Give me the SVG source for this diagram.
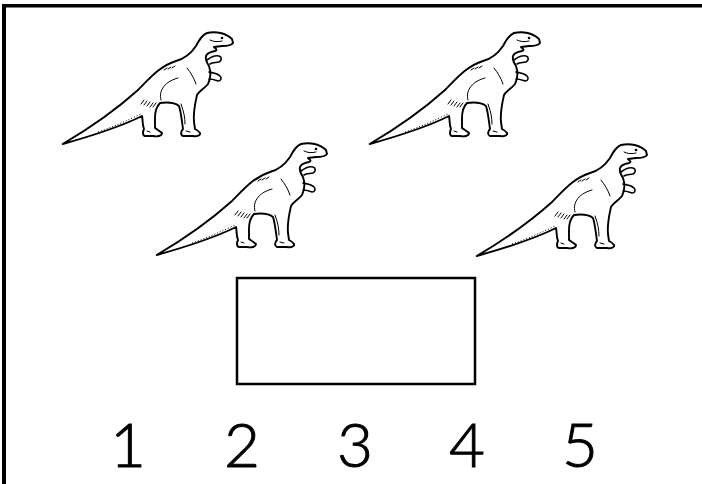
<svg xmlns="http://www.w3.org/2000/svg" xmlns:xlink="http://www.w3.org/1999/xlink" width="702" height="484" viewBox="0 0 702 484">
<style>
.ln{fill:none;stroke:#000;stroke-width:1.6;stroke-linecap:round;stroke-linejoin:round}
.body{fill:#fff;stroke:#000;stroke-width:1.9;stroke-linejoin:round}
.thin{fill:none;stroke:#000;stroke-width:1;stroke-linecap:round}
.dot{fill:none;stroke:#000;stroke-width:1;stroke-dasharray:1 2}
.num{font-family:Lato,"Liberation Sans",sans-serif;font-weight:300;font-size:62px;fill:#000;stroke:#000;stroke-width:1;text-anchor:middle}
</style>
<defs>
<g id="dino">
<path class="body" d="M62.7,144 C90,128 118,108 138,90 C150,78 160,66 176,61 C187,58 192,52 196,46 C199,40 202,35 207,33 C216,31 226,33 232,39 L233,43 C231,46 226,46 222,46 L214,47 C216,49 218,50 215,51 C210,52 207,53 206,56 C205,60 207,63 209,66 C211,72 211,78 208,84 C204,89 199,91 197,95 C195,104 193,112 194,122 L195,129 C197,130 199,131 200,133 C201,135 197,137 193,136 L183,136 C180,135 181,131 183,129 C182,122 181,112 179,106 C174,102 168,102 160,103 C157,106 155,111 155,118 L155,128 C158,130 160,131 162,133 C162,136 157,137 153,136 L145,136 C142,135 143,131 144,129 C142,124 143,120 142,116 C124,125 95,135 62.7,144 Z"/>
<path class="ln" d="M207,60 C211,57 215,55 219,56 C222,57 222,60 219,62 C216,63 213,62 210,64"/>
<path class="ln" d="M209,72 C213,73 217,73 220,76 C222,78 221,81 218,81 C215,80 213,79 209,79"/>
<path class="thin" d="M178,78 C166,81 158,90 161,100"/>
<path class="thin" d="M187,68 C191,73 194,78 196,84"/>
<path class="thin" d="M181,104 C184,112 185,118 185,124"/>
<path class="dot" d="M98,132 C113,127 126,121 141,114"/>
<path class="thin" d="M141,104 L144,100 M144,105 L147,101 M147,106 L150,102 M150,107 L153,103 M153,107 L156,103"/>
<path class="thin" d="M164,70 L167,68 M168,69 L171,67 M172,68 L175,66"/>
<path class="thin" d="M210,40 C214,42 218,42 222,41"/>
<circle cx="222" cy="38" r="1.3" fill="#000"/>
<path class="thin" d="M147,131 L150,132 M186,131 L190,132"/>
</g>
</defs>
<rect x="2" y="4" width="700" height="3.5" fill="#000"/>
<rect x="2" y="4" width="4" height="480" fill="#000"/>
<g id="dino-top-left"><use xlink:href="#dino" href="#dino"/></g>
<g id="dino-top-right"><use xlink:href="#dino" href="#dino" transform="translate(307,0)"/></g>
<g id="dino-mid-left"><use xlink:href="#dino" href="#dino" transform="translate(94,111)"/></g>
<g id="dino-mid-right"><use xlink:href="#dino" href="#dino" transform="translate(414,112)"/></g>
<g id="answer-box"><rect x="237" y="278" width="238" height="106" fill="#fff" stroke="#000" stroke-width="2.5"/></g>
<g id="numbers">
<text class="num" x="128" y="467">1</text>
<text class="num" x="242" y="467">2</text>
<text class="num" x="355" y="467">3</text>
<text class="num" x="467" y="467">4</text>
<text class="num" x="580" y="467">5</text>
</g>
</svg>
